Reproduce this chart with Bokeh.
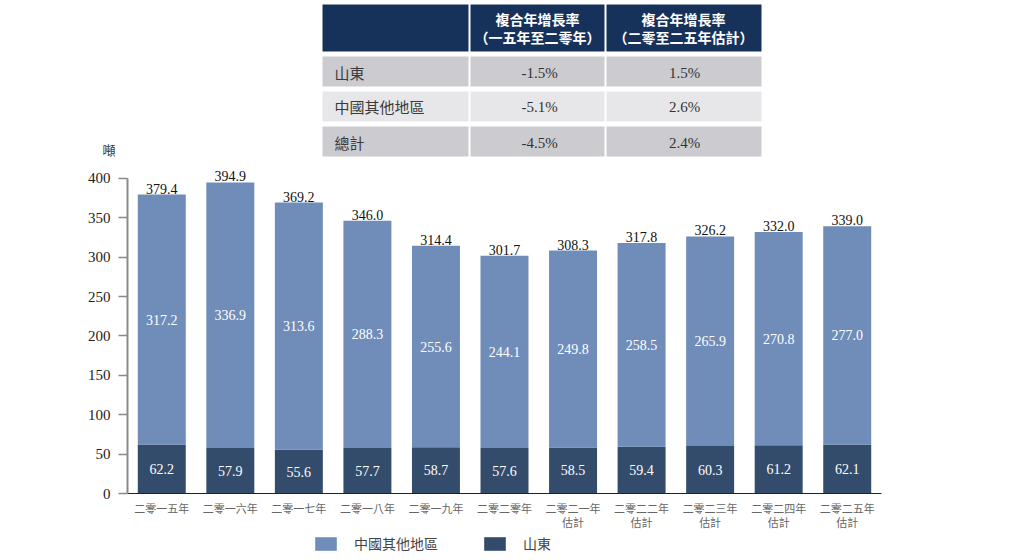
from bokeh.plotting import figure
from bokeh.models import Range1d, FactorRange, Legend, LegendItem, FixedTicker
from bokeh.layouts import column
from bokeh.embed import file_html
from bokeh.resources import INLINE
from bokeh.core.properties import value

# ---------------- data ----------------
years = ["二零一五年", "二零一六年", "二零一七年", "二零一八年", "二零一九年", "二零二零年",
         "二零二一年\n估計", "二零二二年\n估計", "二零二三年\n估計", "二零二四年\n估計", "二零二五年\n估計"]
shandong = [62.2, 57.9, 55.6, 57.7, 58.7, 57.6, 58.5, 59.4, 60.3, 61.2, 62.1]
other_china = [317.2, 336.9, 313.6, 288.3, 255.6, 244.1, 249.8, 258.5, 265.9, 270.8, 277.0]
totals = [379.4, 394.9, 369.2, 346.0, 314.4, 301.7, 308.3, 317.8, 326.2, 332.0, 339.0]
y_ticks = [0, 50, 100, 150, 200, 250, 300, 350, 400]
unit_label = "噸"
series_names = ["中國其他地區", "山東"]

table_head_1 = ["複合年增長率", "複合年增長率"]
table_head_2 = ["（一五年至二零年）", "（二零至二五年估計）"]
table_rows = ["山東", "中國其他地區", "總計"]
cagr_2015_2020 = ["-1.5%", "-5.1%", "-4.5%"]
cagr_2020_2025 = ["1.5%", "2.6%", "2.4%"]

# ---------------- styles ----------------
FONT = "Liberation Serif, Noto Sans CJK TC"
CJK = "Noto Sans CJK TC, Liberation Serif"
LIGHT = "#6f8db8"
DARK = "#344c6c"
NAVY = "#17325a"
GRAY_ROW = "#cccbd0"
LIGHT_ROW = "#e7e7e9"
W = 1014
BL, BR = 127, 133

# ---------------- table figure (pixel coordinates of the picture) ----------------
t = figure(width=W, height=159, x_range=Range1d(128, 882), y_range=Range1d(160, 1),
           output_backend="svg", toolbar_location=None,
           min_border_left=BL, min_border_right=BR, min_border_top=0, min_border_bottom=0,
           x_axis_location=None, y_axis_location="left", outline_line_color=None)
t.xgrid.visible = False
t.ygrid.visible = False
t.yaxis.ticker = FixedTicker(ticks=[151])
t.yaxis.major_label_overrides = {151: unit_label}
t.yaxis.axis_line_color = None
t.yaxis.major_tick_line_color = None
t.yaxis.minor_tick_line_color = None
t.yaxis.major_label_standoff = 6
t.yaxis.major_label_text_font = CJK
t.yaxis.major_label_text_font_size = "13px"
t.yaxis.major_label_text_color = "#333333"

col_l = [323, 471, 607]
col_r = [469, 605, 762]
row_t = [57, 92, 127]
row_b = [87, 122, 157]
row_fill = [GRAY_ROW, LIGHT_ROW, GRAY_ROW]

t.quad(left=col_l, right=col_r, top=[5, 5, 5], bottom=[52, 52, 52],
       fill_color=NAVY, line_color=None)
ql, qr, qt, qb, qc = [], [], [], [], []
for i in range(3):
    for j in range(3):
        ql.append(col_l[j]); qr.append(col_r[j]); qt.append(row_t[i]); qb.append(row_b[i]); qc.append(row_fill[i])
t.quad(left=ql, right=qr, top=qt, bottom=qb, fill_color=qc, line_color=None)

hx = [538, 684]
t.text(x=hx, y=[19, 19], text=table_head_1, text_align="center", text_baseline="middle",
       text_color="white", text_font=value(CJK), text_font_style="bold", text_font_size="14px")
t.text(x=hx, y=[37.5, 37.5], text=table_head_2, text_align="center", text_baseline="middle",
       text_color="white", text_font=value(CJK), text_font_style="bold", text_font_size="14px")

row_y = [73, 107, 143]
t.text(x=[335] * 3, y=row_y, text=table_rows, text_align="left", text_baseline="middle",
       text_color="#3a3a3a", text_font=value(CJK), text_font_size="15px")
t.text(x=[540] * 3, y=row_y, text=cagr_2015_2020, text_align="center", text_baseline="middle",
       text_color="#333333", text_font=value(FONT), text_font_size="15px")
t.text(x=[685] * 3, y=row_y, text=cagr_2020_2025, text_align="center", text_baseline="middle",
       text_color="#333333", text_font=value(FONT), text_font_size="15px")

# ---------------- chart figure ----------------
p = figure(width=W, height=372, x_range=FactorRange(*years), y_range=Range1d(0, 415),
           output_backend="svg", toolbar_location=None,
           min_border_left=BL, min_border_right=BR, min_border_top=7, min_border_bottom=38,
           outline_line_color=None)
p.xgrid.visible = False
p.ygrid.visible = False

base = [0] * len(years)
stack_top = [s + o for s, o in zip(shandong, other_china)]
r_dark = p.vbar(x=years, bottom=base, top=shandong, width=0.70, fill_color=DARK, line_color=None)
r_light = p.vbar(x=years, bottom=shandong, top=stack_top, width=0.70, fill_color=LIGHT, line_color=None)

p.text(x=years, y=totals, text=[f"{v:.1f}" for v in totals], text_align="center",
       text_baseline="bottom", y_offset=-1, text_color="#111111",
       text_font=value(FONT), text_font_size="14px")
p.text(x=years, y=[(s + tt) / 2 for s, tt in zip(shandong, stack_top)],
       text=[f"{v:.1f}" for v in other_china], text_align="center", text_baseline="middle",
       text_color="white", text_font=value(FONT), text_font_size="14px")
p.text(x=years, y=[s / 2 for s in shandong], text=[f"{v:.1f}" for v in shandong],
       text_align="center", text_baseline="middle", text_color="white",
       text_font=value(FONT), text_font_size="14px")

p.yaxis.ticker = y_ticks
p.yaxis.bounds = (0, 400)
p.yaxis.axis_line_color = "#8a8a8a"
p.yaxis.axis_line_width = 2
p.yaxis.major_tick_line_color = "#8a8a8a"
p.yaxis.major_tick_line_width = 1.5
p.yaxis.major_tick_out = 9
p.yaxis.major_tick_in = 0
p.yaxis.minor_tick_line_color = None
p.yaxis.major_label_standoff = 8
p.yaxis.major_label_text_font = FONT
p.yaxis.major_label_text_font_size = "15px"
p.yaxis.major_label_text_color = "#222222"

p.xaxis.axis_line_color = "#222222"
p.xaxis.axis_line_width = 1.2
p.xaxis.major_tick_line_color = None
p.xaxis.minor_tick_line_color = None
p.xaxis.major_label_standoff = 3
p.xaxis.major_label_text_font = FONT
p.xaxis.major_label_text_font_size = "11px"
p.xaxis.major_label_text_color = "#666666"

# ---------------- legend figure ----------------
lg = figure(width=W, height=26, x_range=Range1d(0, 1), y_range=Range1d(0, 1),
            output_backend="svg", toolbar_location=None,
            min_border_left=BL, min_border_right=BR, min_border_top=0, min_border_bottom=0,
            x_axis_location=None, y_axis_location=None, outline_line_color=None)
lg.xgrid.visible = False
lg.ygrid.visible = False
# legend-key renderers: placed outside the visible range so only their legend swatches show
g_light = lg.vbar(x=[-5], bottom=[-5], top=[-4], width=0.5, fill_color=LIGHT, line_color=None)
g_dark = lg.vbar(x=[-5], bottom=[-5], top=[-4], width=0.5, fill_color=DARK, line_color=None)
legend = Legend(items=[LegendItem(label=series_names[0], renderers=[g_light]),
                       LegendItem(label=series_names[1], renderers=[g_dark])],
                location=(185, 4), orientation="horizontal",
                glyph_width=27, glyph_height=17, label_standoff=15, spacing=43,
                padding=0, margin=0, border_line_color=None, background_fill_alpha=0,
                label_text_font=CJK, label_text_font_size="14px",
                label_text_color="#444444", label_height=17)
lg.add_layout(legend)

layout = column(t, p, lg, spacing=0)
open("out.html", "w").write(file_html(layout, INLINE))
